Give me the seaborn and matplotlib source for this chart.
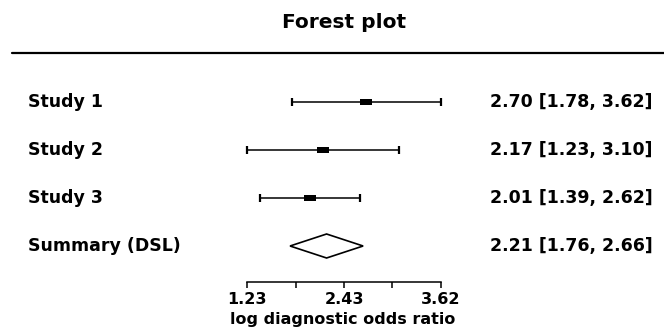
import matplotlib
matplotlib.use('Agg')
import matplotlib.pyplot as plt
import seaborn as sns
from pandas import DataFrame

studies = ['Study 1', 'Study 2', 'Study 3']
estimates = [2.70, 2.17, 2.01]
lower = [1.78, 1.23, 1.39]
upper = [3.62, 3.10, 2.62]

summary_label = 'Summary (DSL)'
summary_est = 2.21
summary_lower = 1.76
summary_upper = 2.66

tick_values = [1.23, 1.83, 2.43, 3.02, 3.62]
tick_labels = ['1.23', '', '2.43', '', '3.62']


def ci_text(est, lo, hi):
    return '{:.2f} [{:.2f}, {:.2f}]'.format(est, lo, hi)


sns.set_theme(style='white')
plt.rcParams['font.family'] = ['DejaVu Sans']
plt.rcParams['text.color'] = 'black'
plt.rcParams['axes.labelcolor'] = 'black'
plt.rcParams['xtick.color'] = 'black'

df = DataFrame({'study': studies, 'est': estimates, 'lo': lower, 'hi': upper})
df['row'] = range(len(df))

W, H = 664, 330
fig = plt.figure(figsize=(W / 100, H / 100), dpi=100)
ax = fig.add_axes([0, 0, 1, 1])

# pixel layout -> data limits
px_per_unit = 81.2
x_at_first_tick = 247
ax.set_xlim(1.23 - x_at_first_tick / px_per_unit,
            1.23 + (W - x_at_first_tick) / px_per_unit)
row0, row_step = 102, 48
ax.set_ylim((H - row0) / row_step, -row0 / row_step)

# confidence intervals
ax.errorbar(df['est'], df['row'],
            xerr=[df['est'] - df['lo'], df['hi'] - df['est']],
            fmt='none', ecolor='black', elinewidth=1.1,
            capsize=3.2, capthick=1.6)

# point estimates (flat box markers)
box = [(-1, -0.45), (1, -0.45), (1, 0.45), (-1, 0.45)]
sns.scatterplot(data=df, x='est', y='row', marker=box, s=80,
                color='black', edgecolor='black', linewidth=0, ax=ax,
                zorder=3, legend=False)

# summary diamond
srow = len(df)
h = 0.25
ax.fill([summary_lower, summary_est, summary_upper, summary_est],
        [srow, srow - h, srow, srow + h],
        facecolor='white', edgecolor='black', linewidth=1.2, zorder=3)

# labels
labels = studies + [summary_label]
texts = [ci_text(e, l, u) for e, l, u in zip(estimates, lower, upper)]
texts.append(ci_text(summary_est, summary_lower, summary_upper))
for i, (lab, txt) in enumerate(zip(labels, texts)):
    ax.text(28 / W, i, lab, transform=ax.get_yaxis_transform(),
            ha='left', va='center', fontsize=12.5, fontweight='bold')
    ax.text(490 / W, i, txt, transform=ax.get_yaxis_transform(),
            ha='left', va='center', fontsize=12.5, fontweight='bold')

# rule under the title
ax.axhline((53 - row0) / row_step, xmin=12 / W, xmax=1, color='black',
           linewidth=1.6)

ax.text((tick_values[0] + tick_values[-1]) / 2, (22 - row0) / row_step,
        'Forest plot', ha='center', va='center',
        fontsize=14.5, fontweight='bold')

# x axis
for side in ['left', 'right', 'top']:
    ax.spines[side].set_visible(False)
ax.spines['bottom'].set_position(('data', (282 - row0) / row_step))
ax.spines['bottom'].set_bounds(tick_values[0], tick_values[-1])
ax.spines['bottom'].set_linewidth(1.1)
ax.spines['bottom'].set_color('black')
ax.set_xticks(tick_values)
ax.set_xticklabels(tick_labels, fontsize=11.5, fontweight='bold')
ax.tick_params(axis='x', direction='out', length=4, width=1.1,
               color='black', pad=3, bottom=True)
ax.set_yticks([])
ax.set_xlabel('log diagnostic odds ratio', fontsize=11.5,
              fontweight='bold', labelpad=4)
ax.xaxis.label.set_x(343 / W)
ax.set_ylabel('')

fig.savefig('out.png', dpi=100)
